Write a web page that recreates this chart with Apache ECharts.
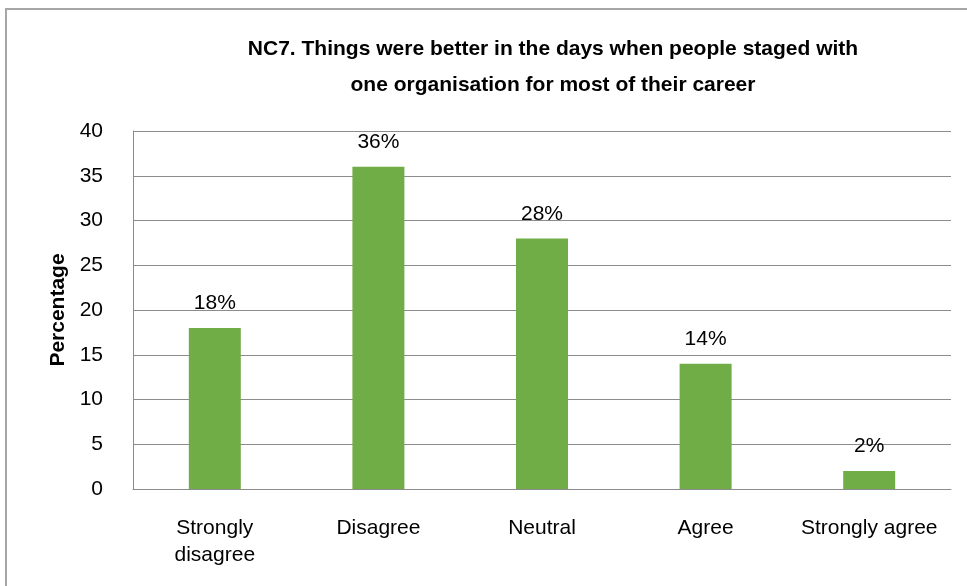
<!DOCTYPE html>
<html>
<head>
<meta charset="utf-8">
<script src="https://cdn.jsdelivr.net/npm/echarts@6/dist/echarts.min.js"></script>
<style>
  html, body { margin: 0; padding: 0; background: #ffffff; }
  #chart { width: 967px; height: 586px; }
</style>
</head>
<body>
<div id="chart"></div>
<script>
// Survey responses (percent of respondents)
const categories = ['Strongly\ndisagree', 'Disagree', 'Neutral', 'Agree', 'Strongly agree'];
const percentages = [18, 36, 28, 14, 2];
const yTicks = [0, 5, 10, 15, 20, 25, 30, 35, 40];

const titleLines = [
  'NC7. Things were better in the days when people staged with',
  'one organisation for most of their career'
];
const FONT = '"Liberation Sans", Arial, sans-serif';

const chart = echarts.init(document.getElementById('chart'), null, { renderer: 'canvas' });

chart.setOption({
  backgroundColor: '#ffffff',
  animation: false,
  graphic: [
    {
      type: 'rect',
      shape: { x: 6, y: 9, width: 1000, height: 1000 },
      style: { fill: 'none', stroke: '#a6a6a6', lineWidth: 2 },
      silent: true
    },
    {
      type: 'text',
      x: 553, y: 49,
      style: {
        text: titleLines[0],
        textAlign: 'center', textVerticalAlign: 'middle',
        font: 'bold 21px ' + FONT, fill: '#000000'
      },
      silent: true
    },
    {
      type: 'text',
      x: 553, y: 85,
      style: {
        text: titleLines[1],
        textAlign: 'center', textVerticalAlign: 'middle',
        font: 'bold 21px ' + FONT, fill: '#000000'
      },
      silent: true
    }
  ],
  grid: {
    left: 133,
    right: 16,
    top: 131,
    bottom: 97,
    containLabel: false
  },
  xAxis: {
    type: 'category',
    data: categories,
    axisLine: { show: true, lineStyle: { color: '#8c8c8c', width: 1 } },
    axisTick: { show: false },
    axisLabel: {
      fontFamily: FONT,
      fontSize: 21,
      color: '#000000',
      margin: 26,
      lineHeight: 27,
      interval: 0
    }
  },
  yAxis: {
    type: 'value',
    min: 0,
    max: 40,
    interval: 5,
    name: 'Percentage',
    nameLocation: 'middle',
    nameGap: 60,
    nameRotate: 90,
    nameTextStyle: {
      fontFamily: FONT,
      fontWeight: 'bold',
      fontSize: 21,
      color: '#000000'
    },
    axisLine: { show: true, lineStyle: { color: '#8c8c8c', width: 1 } },
    axisTick: { show: false },
    splitLine: { show: true, lineStyle: { color: '#8c8c8c', width: 1 } },
    axisLabel: {
      fontFamily: FONT,
      fontSize: 21,
      color: '#000000',
      margin: 30,
      formatter: function (v) { return yTicks.indexOf(v) >= 0 ? String(v) : ''; }
    }
  },
  series: [{
    type: 'bar',
    data: percentages,
    barWidth: 52,
    itemStyle: { color: '#70ad47' },
    label: {
      show: true,
      position: 'top',
      distance: 14,
      fontFamily: FONT,
      fontSize: 21,
      color: '#000000',
      formatter: function (p) { return p.value + '%'; }
    }
  }]
});
</script>
</body>
</html>
